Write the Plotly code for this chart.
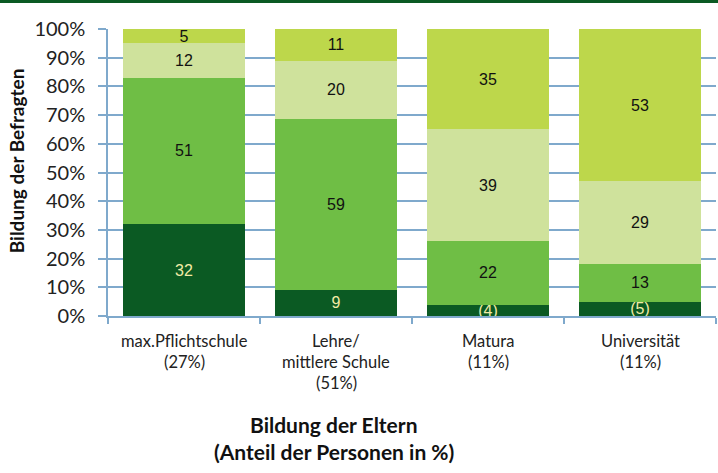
import plotly.graph_objects as go

categories = ["max.Pflichtschule<br>(27%)", "Lehre/<br>mittlere Schule<br>(51%)",
              "Matura<br>(11%)", "Universität<br>(11%)"]
pflicht = [32, 9, 4, 5]
lehre = [51, 59, 22, 13]
matura = [12, 20, 39, 29]
uni = [5, 11, 35, 53]
pflicht_labels = ["32", "9", "(4)", "(5)"]

series = [
    ("max. Pflichtschule", pflicht, pflicht_labels, "#0b5a23", "#f2eba6"),
    ("Lehre/mittlere Schule", lehre, [str(v) for v in lehre], "#6fbe45", "#111111"),
    ("Matura", matura, [str(v) for v in matura], "#cfe29c", "#111111"),
    ("Universität", uni, [str(v) for v in uni], "#bdd74b", "#111111"),
]

grid_col = "#7fa9cc"
num_font = "Liberation Sans Narrow, Arial Narrow, Liberation Sans, Arial"
lab_font = "Lato, Open Sans, sans-serif"

W, H = 718, 473
ML, MR, MT, MB = 108, 2, 28.5, 157
PW, PH = W - ML - MR, H - MT - MB


def px_x(px):
    return (px - ML) / PW


def px_y(py):
    return (H - MB - py) / PH


fig = go.Figure()
for name, vals, labels, col, tcol in series:
    fig.add_trace(go.Bar(
        x=categories, y=vals, name=name, text=labels, texttemplate="%{text}",
        textposition="inside", insidetextanchor="middle", textangle=0,
        constraintext="none",
        textfont=dict(family=num_font, size=16, color=tcol),
        marker=dict(color=col, line=dict(width=0)),
        hoverinfo="skip",
    ))

annotations = []
for cat in categories:
    for i, line in enumerate(cat.split("<br>")):
        annotations.append(dict(
            text=line, xref="x", yref="paper",
            x=cat, y=px_y(341 + i * 21),
            xanchor="center", yanchor="middle", showarrow=False,
            font=dict(size=16.5, family=lab_font, color="#222222"),
        ))

annotations.append(dict(
    text="<b>Bildung der Eltern</b>", xref="paper", yref="paper",
    x=px_x(334), y=px_y(425), xanchor="center", yanchor="middle",
    showarrow=False, font=dict(size=21, family=lab_font, color="#111111"),
))
annotations.append(dict(
    text="<b>(Anteil der Personen in %)</b>", xref="paper", yref="paper",
    x=px_x(334), y=px_y(452), xanchor="center", yanchor="middle",
    showarrow=False, font=dict(size=21, family=lab_font, color="#111111"),
))
annotations.append(dict(
    text="<b>Bildung der Befragten</b>", xref="paper", yref="paper",
    x=px_x(16), y=px_y(161), xanchor="center", yanchor="middle", textangle=-90,
    showarrow=False, font=dict(size=19, family=lab_font, color="#111111"),
))

fig.update_layout(
    barmode="stack", barnorm="percent", bargap=0.2,
    width=W, height=H,
    margin=dict(l=ML, r=MR, t=MT, b=MB),
    plot_bgcolor="white", paper_bgcolor="white",
    showlegend=False,
    font=dict(family=lab_font, color="#222222"),
    xaxis=dict(
        showticklabels=False,
        ticks="outside", tickson="boundaries", ticklen=6, tickcolor=grid_col,
        tickwidth=1.5, showline=True, linecolor=grid_col, linewidth=1.5,
        showgrid=False,
    ),
    yaxis=dict(
        range=[0, 100], dtick=10, ticksuffix="%",
        tickfont=dict(size=20, family=lab_font, color="#222222"),
        ticks="outside", ticklen=8, tickcolor=grid_col, tickwidth=1.5,
        showline=True, linecolor=grid_col, linewidth=1.5,
        showgrid=True, gridcolor=grid_col, gridwidth=1.5,
        ticklabelstandoff=9,
    ),
    annotations=annotations,
    shapes=[dict(type="rect", xref="paper", yref="paper",
                 x0=-0.3, x1=1.1, y0=1 + 26 / PH, y1=1.2,
                 fillcolor="#0b5a23", line=dict(width=0), layer="above")],
)

fig.write_html("out.html")
